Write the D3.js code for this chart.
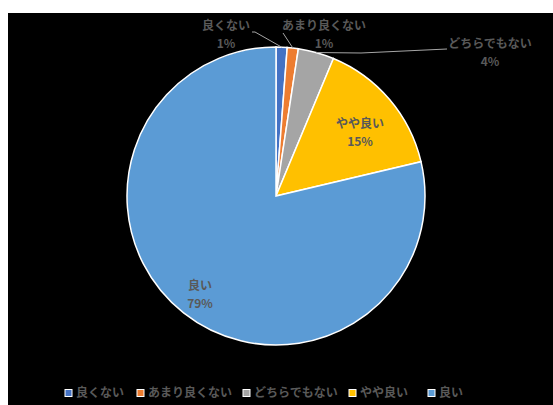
<!DOCTYPE html>
<html>
<head>
<meta charset="utf-8">
<script src="https://cdn.jsdelivr.net/npm/d3@7"></script>
<style>
  body { margin: 0; background: #fff; }
  text { font-family: "Meiryo UI", "Noto Sans CJK JP", sans-serif; }
</style>
</head>
<body>
<svg id="chart" width="553" height="405"></svg>
<script>
// categories and shares (%)
const categories = ['良くない', 'あまり良くない', 'どちらでもない', 'やや良い', '良い']
const values = [1.2, 1.2, 3.9, 15.0, 78.7]
const colors = ['#4472C4', '#ED7D31', '#A5A5A5', '#FFC000', '#5B9BD5']

const width = 553
const height = 405
const cx = 276
const cy = 196
const radius = 149

const svg = d3.select('#chart')

// black plot background
svg.append('rect')
  .attr('x', 8).attr('y', 13)
  .attr('width', width - 8).attr('height', height - 13)
  .attr('fill', '#000')

const data = categories.map(function (c, i) { return { name: c, value: values[i], color: colors[i] } })

const pie = d3.pie().sort(null).value(function (d) { return d.value })
const arc = d3.arc().innerRadius(0).outerRadius(radius)
const arcs = pie(data)

const g = svg.append('g').attr('transform', 'translate(' + cx + ',' + cy + ')')

g.selectAll('path.slice')
  .data(arcs)
  .join('path')
  .attr('class', 'slice')
  .attr('d', arc)
  .attr('fill', function (d) { return d.data.color })
  .attr('stroke', '#fff')
  .attr('stroke-width', 1.5)

// label placement: centre of the name line, relative to pie centre
const labelPlace = [
  { dx: -50, dy: -170, line: [[-24, -164], [-21, -164]] },
  { dx: 48, dy: -170, line: [[7, -163]] },
  { dx: 214, dy: -152, line: [[171, -147], [85, -143]] },
  { dx: 84, dy: -72 },
  { dx: -76, dy: 90 }
]

const labelColor = '#595959'

arcs.forEach(function (a, i) {
  const p = labelPlace[i]
  const mid = (a.startAngle + a.endAngle) / 2
  if (p.line) {
    const edge = [Math.sin(mid) * radius, -Math.cos(mid) * radius]
    const pts = p.line.concat([edge])
    g.append('path')
      .attr('d', d3.line()(pts))
      .attr('fill', 'none')
      .attr('stroke', '#A6A6A6')
      .attr('stroke-width', 1)
  }
  g.append('text')
    .attr('x', p.dx).attr('y', p.dy)
    .attr('dy', '0.35em')
    .attr('text-anchor', 'middle')
    .attr('fill', labelColor)
    .attr('font-size', 12)
    .attr('font-weight', 'bold')
    .text(a.data.name)
  g.append('text')
    .attr('x', p.dx).attr('y', p.dy + 18)
    .attr('dy', '0.35em')
    .attr('text-anchor', 'middle')
    .attr('fill', labelColor)
    .attr('font-size', 12)
    .attr('font-weight', 'bold')
    .text(Math.round(a.data.value) + '%')
})

// legend
const legendX = [65, 137, 243, 349, 428]
const legend = svg.append('g').attr('transform', 'translate(0,393)')
const items = legend.selectAll('g.item')
  .data(data)
  .join('g')
  .attr('class', 'item')
  .attr('transform', function (d, i) { return 'translate(' + legendX[i] + ',0)' })

items.append('rect')
  .attr('x', 0).attr('y', -3.5)
  .attr('width', 7).attr('height', 7)
  .attr('fill', function (d) { return d.color })
  .attr('stroke', '#fff')
  .attr('stroke-width', 1)

items.append('text')
  .attr('x', 11).attr('y', 0)
  .attr('dy', '0.35em')
  .attr('fill', labelColor)
  .attr('font-size', 12)
  .attr('font-weight', 'bold')
  .text(function (d) { return d.name })
</script>
</body>
</html>
